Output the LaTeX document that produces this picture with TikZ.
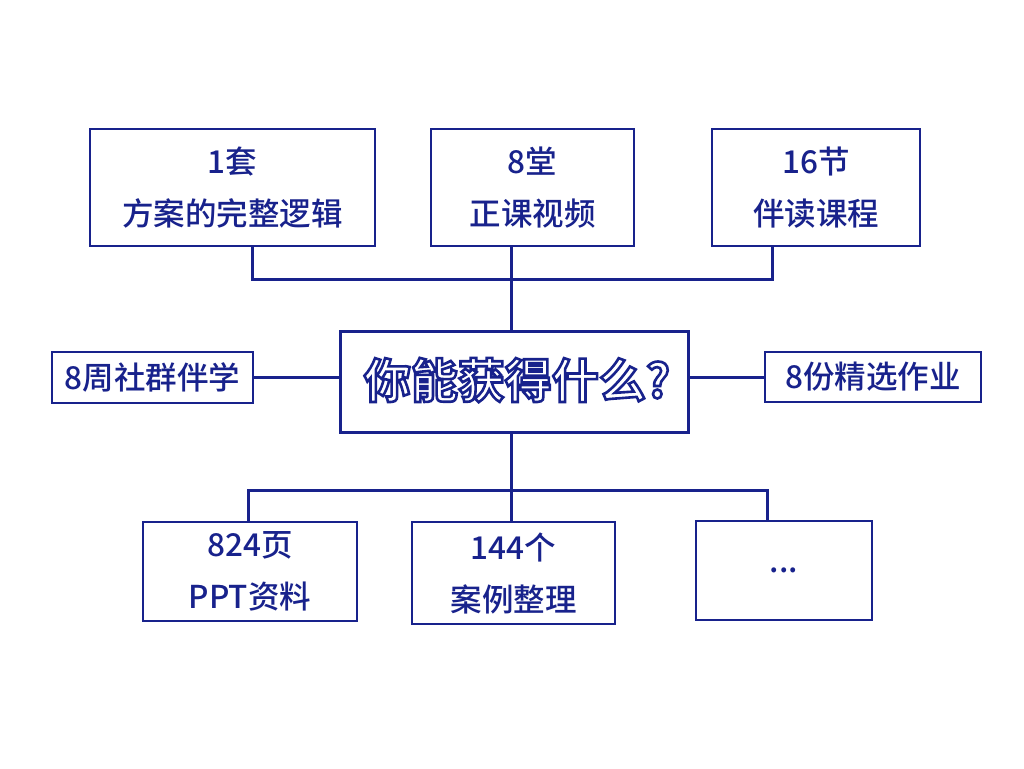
\documentclass[tikz,border=0pt]{standalone}
\usepackage{fontspec}
\newfontfamily\cjk{Noto Sans CJK SC Medium}
\newfontfamily\cjkbold{Noto Sans CJK SC Bold}
\definecolor{navy}{RGB}{24,34,140}
\newcommand{\outlinetext}[1]{\special{pdf:literal direct 2 Tr 2.6 w 0.094 0.133 0.549 RG}#1\special{pdf:literal direct 0 Tr}}
\begin{document}
\begin{tikzpicture}[x=1pt,y=-1pt,
  box/.style={draw=navy,line width=1.5pt,fill=white,inner sep=0pt,align=center,
    text=navy,font=\cjk\fontsize{31.5}{52}\selectfont},
  conn/.style={draw=navy,line width=3pt},
  titletxt/.style={font=\cjkbold\fontsize{47}{50}\selectfont,inner sep=0pt}]
\useasboundingbox[fill=white] (0,0) rectangle (1024,768);
% top row
\node[box,minimum width=285pt,minimum height=117pt] (t1) at (232.5,187.5) {1套\\方案的完整逻辑};
\node[box,minimum width=203pt,minimum height=117pt] (t2) at (532.5,187.5) {8堂\\正课视频};
\node[box,minimum width=208pt,minimum height=117pt] (t3) at (816,187.5) {16节\\伴读课程};
% center
\node[draw=navy,line width=3pt,fill=white,minimum width=348pt,minimum height=101pt] (c) at (514,381.5) {};
% sides
\node[box,minimum width=201pt,minimum height=51pt] (l) at (152.5,377.5) {8周社群伴学};
\node[box,minimum width=216pt,minimum height=50pt] (r) at (873,377) {8份精选作业};
% bottom row
\node[box,minimum width=214pt,minimum height=99pt] (b1) at (250,571.5) {824页\\PPT资料};
\node[box,minimum width=203pt,minimum height=102pt] (b2) at (513.5,573) {144个\\案例整理};
\node[box,minimum width=176pt,minimum height=99pt] (b3) at (784,570.5) {...};
% connectors
\draw[conn] (t1.south -| 252,0) -- (252,279) -- (772,279) -- (t3.south -| 772,0);
\draw[conn] (t2.south -| 511,0) -- (c.north -| 511,0);
\draw[conn] (l.east) -- (l.east -| c.west);
\draw[conn] (c.east |- r.west) -- (r.west);
\draw[conn] (c.south -| 511,0) -- (b2.north -| 511,0);
\draw[conn] (b1.north -| 248,0) -- (248,490) -- (767,490) -- (b3.north -| 767,0);
% outlined title
\node[titletxt,text=white] (title) at (517,380) {\outlinetext{你能获得什么?}};
\end{tikzpicture}
\end{document}
